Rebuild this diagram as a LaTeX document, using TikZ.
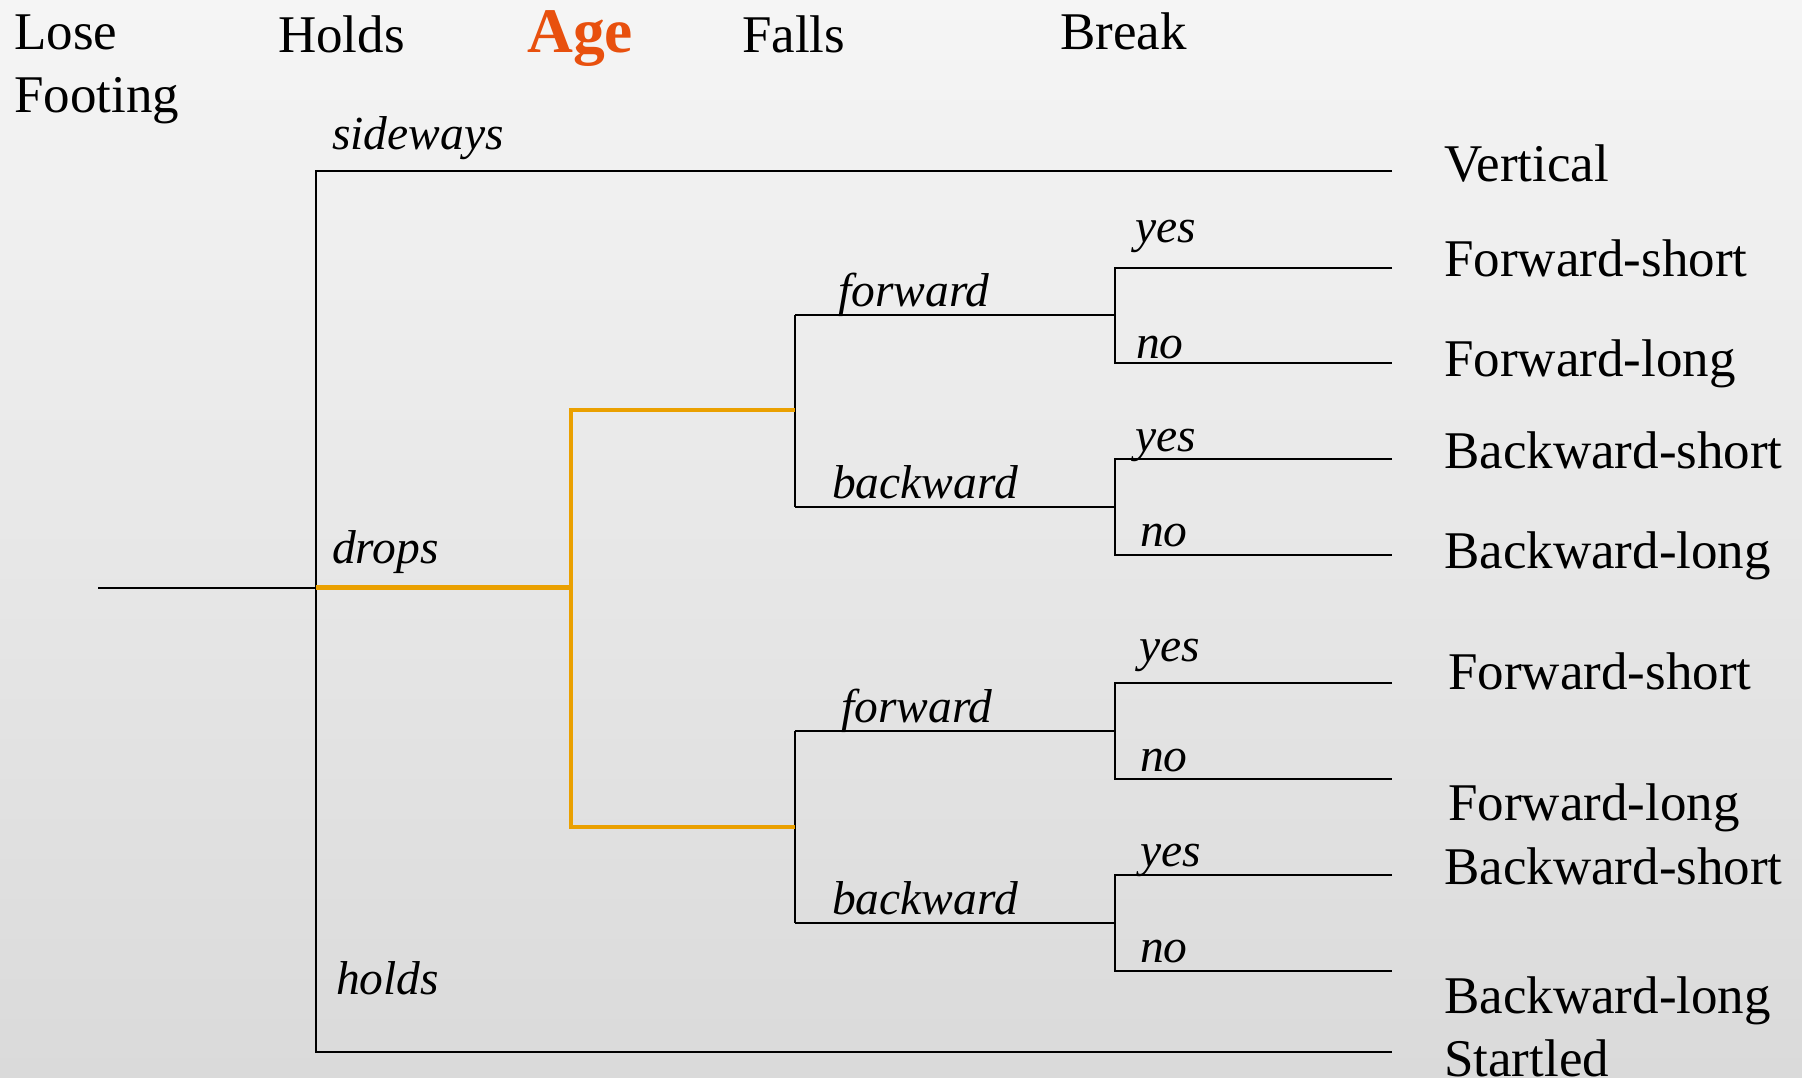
\documentclass[tikz,border=0pt]{standalone}
\usepackage{fontspec}
\setmainfont{Liberation Serif}
\definecolor{bgtop}{RGB}{245,245,245}
\definecolor{bgbot}{RGB}{218,218,218}
\definecolor{agegold}{RGB}{234,160,0}
\definecolor{agered}{RGB}{232,80,14}
\begin{document}
\begin{tikzpicture}[x=1pt,y=-1pt,
  branch/.style={line width=2pt, black},
  agepath/.style={line width=4.5pt, agegold},
  head/.style={anchor=base west, inner sep=0pt, font=\fontsize{53}{60}\selectfont},
  agehead/.style={anchor=base west, inner sep=0pt, text=agered, font=\fontsize{63.5}{70}\selectfont\bfseries},
  leaf/.style={anchor=base west, inner sep=0pt, font=\fontsize{53}{60}\selectfont},
  choice/.style={anchor=base west, inner sep=0pt, font=\fontsize{47.5}{55}\selectfont\itshape},
]
% background
\shade[top color=bgtop, bottom color=bgbot] (0,0) rectangle (1802,1078);
\useasboundingbox (0,0) rectangle (1802,1078);

% column headings
\node[head] (hLose) at (14,50) {Lose};
\node[head] (hFoot) at (14,113) {Footing};
\node[head] (hHolds) at (278,53) {Holds};
\node[agehead] (hAge) at (527,53) {Age};
\node[head] (hFalls) at (742,53) {Falls};
\node[head] (hBreak) at (1060,50) {Break};

% junction points
\coordinate (root) at (98,587.5);
\coordinate (hold) at (316,587.5);
\coordinate (holdTop) at (316,171);
\coordinate (holdBot) at (316,1051.7);
\coordinate (sideEnd) at (1392,171);
\coordinate (startEnd) at (1392,1051.7);
\coordinate (age) at (571,587.5);
\coordinate (ageTop) at (571,410);
\coordinate (ageBot) at (571,827);
\coordinate (fallA) at (795,410);
\coordinate (fallB) at (795,827);
\coordinate (fallAf) at (795,315);
\coordinate (fallAb) at (795,507);
\coordinate (fallBf) at (795,731);
\coordinate (fallBb) at (795,923);

% first split: holds
\draw[branch] (root) -- (hold);
\draw[branch, line join=miter] (sideEnd) -- (holdTop) -- (holdBot) -- (startEnd);

% falls splits
\draw[branch, line join=miter] (fallAf) -- (fallAb);
\draw[branch, line join=miter] (fallBf) -- (fallBb);

% break splits and leaves
\foreach \k/\m/\t/\b in {1/315/267.7/363, 2/507/459/555, 3/731/683.3/779.3, 4/923/875.3/970.7}{
  \coordinate (brk\k) at (1115,\m);
  \coordinate (brkY\k) at (1115,\t);
  \coordinate (brkN\k) at (1115,\b);
  \coordinate (leafY\k) at (1392,\t);
  \coordinate (leafN\k) at (1392,\b);
  \draw[branch, line join=miter] (leafY\k) -- (brkY\k) -- (brkN\k) -- (leafN\k);
}
\draw[branch] (fallAf) -- (brk1);
\draw[branch] (fallAb) -- (brk2);
\draw[branch] (fallBf) -- (brk3);
\draw[branch] (fallBb) -- (brk4);

% age path
\draw[agepath] (hold) -- (age);
\draw[agepath, line join=miter] (fallA) -- (ageTop) -- (ageBot) -- (fallB);

% branch labels
\node[choice] (lSide) at (332,150) {sideways};
\node[choice] (lDrops) at (332,563) {drops};
\node[choice] (lHolds) at (336,994) {holds};
\node[choice] (lFwdA) at (838,306) {forward};
\node[choice] (lBwdA) at (832,498) {backward};
\node[choice] (lFwdB) at (841,722) {forward};
\node[choice] (lBwdB) at (832,914) {backward};
\node[choice] (lY1) at (1135,243) {yes};
\node[choice] (lN1) at (1136,358) {no};
\node[choice] (lY2) at (1135,451.7) {yes};
\node[choice] (lN2) at (1140,546.7) {no};
\node[choice] (lY3) at (1139,661.7) {yes};
\node[choice] (lN3) at (1140,771.7) {no};
\node[choice] (lY4) at (1140,866.7) {yes};
\node[choice] (lN4) at (1140,962.7) {no};

% outcomes
\node[leaf] (oVert) at (1444,181.7) {Vertical};
\node[leaf] (oFS1) at (1444,276.7) {Forward-short};
\node[leaf] (oFL1) at (1444,376) {Forward-long};
\node[leaf] (oBS1) at (1444,468) {Backward-short};
\node[leaf] (oBL1) at (1444,568) {Backward-long};
\node[leaf] (oFS2) at (1448,689.3) {Forward-short};
\node[leaf] (oFL2) at (1448,820) {Forward-long};
\node[leaf] (oBS2) at (1444,884.3) {Backward-short};
\node[leaf] (oBL2) at (1444,1013.3) {Backward-long};
\node[leaf] (oStart) at (1444,1076.7) {Startled};
\end{tikzpicture}
\end{document}
